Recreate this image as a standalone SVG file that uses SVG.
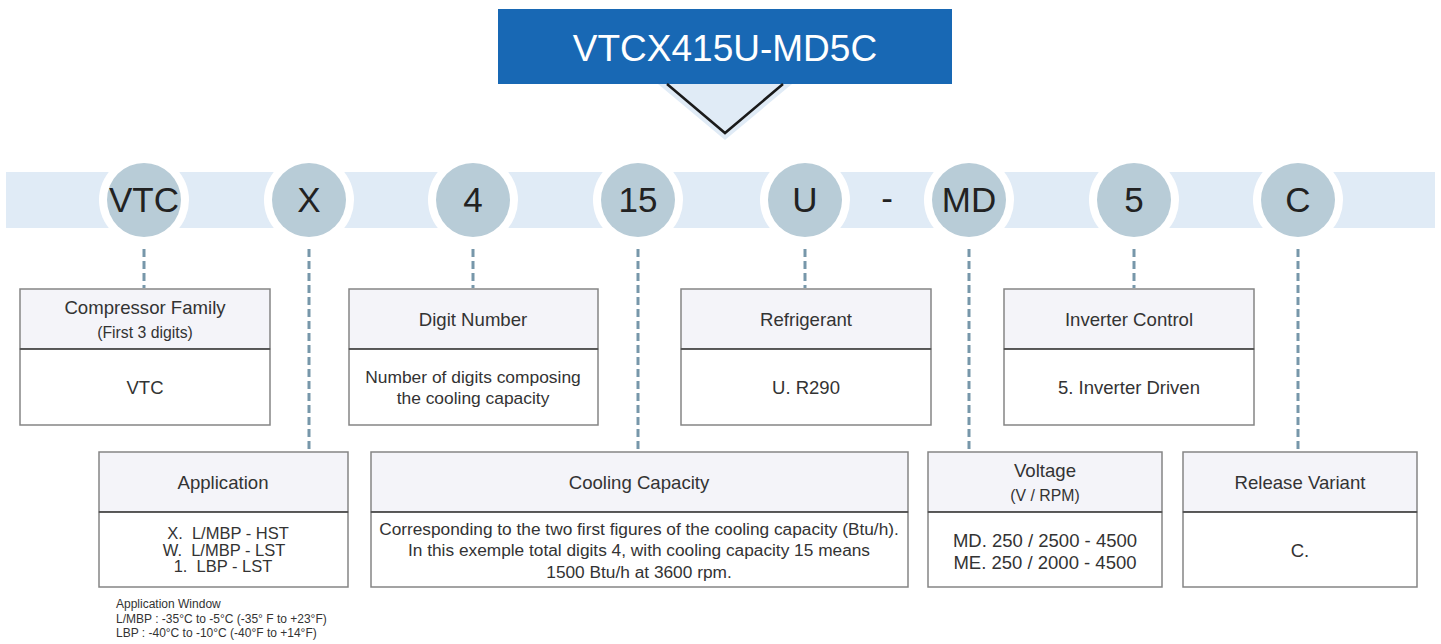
<svg xmlns="http://www.w3.org/2000/svg" width="1441" height="644" viewBox="0 0 1441 644">
<style>
  text { font-family: "Liberation Sans", Arial, sans-serif; fill: #333; }
  .title { fill: #ffffff; font-size: 37px; text-anchor: middle; }
  .code { font-size: 35px; fill: #222; text-anchor: middle; }
  .ring { fill: #ffffff; }
  .dot { fill: #b8ccd7; }
  .hdr { fill: #f4f4f9; stroke: #858585; stroke-width: 1.5; }
  .body { fill: #ffffff; stroke: #858585; stroke-width: 1.5; }
  .div { stroke: #444; stroke-width: 1.5; }
  .h { font-size: 18.6px; text-anchor: middle; }
  .s { font-size: 15.8px; text-anchor: middle; }
  .b { font-size: 18.5px; text-anchor: middle; }
  .b3 { font-size: 17.4px; text-anchor: middle; }
  .b2 { font-size: 17.3px; text-anchor: middle; }
  .ap { font-size: 16.5px; text-anchor: middle; white-space: pre; }
  .note { font-size: 12px; }
  .conn line { stroke: #7797aa; stroke-width: 3; stroke-dasharray: 8 4; }
</style>

<g id="title">
  <polygon points="658,84 792,84 725,140" fill="#e0ebf6"/>
  <rect x="498" y="9" width="454" height="75" fill="#1868b4"/>
  <polyline points="667,84 725,133 783,84" fill="none" stroke="#1a1a1a" stroke-width="2.5"/>
  <text class="title" x="725" y="61">VTCX415U-MD5C</text>
</g>

<g id="band">
  <rect x="6" y="172" width="1429" height="56" fill="#e0ebf6"/>
</g>

<g id="code-VTC"><circle class="ring" cx="144" cy="200" r="45"/><circle class="dot" cx="144" cy="200" r="37"/><text class="code" x="144" y="212">VTC</text></g>
<g id="code-X"><circle class="ring" cx="309" cy="200" r="45"/><circle class="dot" cx="309" cy="200" r="37"/><text class="code" x="309" y="212">X</text></g>
<g id="code-4"><circle class="ring" cx="473" cy="200" r="45"/><circle class="dot" cx="473" cy="200" r="37"/><text class="code" x="473" y="212">4</text></g>
<g id="code-15"><circle class="ring" cx="638" cy="200" r="45"/><circle class="dot" cx="638" cy="200" r="37"/><text class="code" x="638" y="212">15</text></g>
<g id="code-U"><circle class="ring" cx="805" cy="200" r="45"/><circle class="dot" cx="805" cy="200" r="37"/><text class="code" x="805" y="212">U</text></g>
<g id="code-dash"><text class="code" x="887" y="210">-</text></g>
<g id="code-MD"><circle class="ring" cx="969" cy="200" r="45"/><circle class="dot" cx="969" cy="200" r="37"/><text class="code" x="969" y="212">MD</text></g>
<g id="code-5"><circle class="ring" cx="1134" cy="200" r="45"/><circle class="dot" cx="1134" cy="200" r="37"/><text class="code" x="1134" y="212">5</text></g>
<g id="code-C"><circle class="ring" cx="1298" cy="200" r="45"/><circle class="dot" cx="1298" cy="200" r="37"/><text class="code" x="1298" y="212">C</text></g>

<g id="connectors" class="conn">
  <line x1="144" y1="249" x2="144" y2="288"/>
  <line x1="309" y1="249" x2="309" y2="450"/>
  <line x1="473" y1="249" x2="473" y2="288"/>
  <line x1="638" y1="249" x2="638" y2="450"/>
  <line x1="805" y1="249" x2="805" y2="288"/>
  <line x1="969" y1="249" x2="969" y2="450"/>
  <line x1="1134" y1="249" x2="1134" y2="288"/>
  <line x1="1298" y1="249" x2="1298" y2="450"/>
</g>

<g id="box-compressor">
  <rect class="hdr" x="20" y="289" width="250" height="60"/>
  <rect class="body" x="20" y="349" width="250" height="76"/>
  <line class="div" x1="20" y1="349" x2="270" y2="349"/>
  <text class="h" x="145" y="314">Compressor Family</text>
  <text class="s" x="145" y="338">(First 3 digits)</text>
  <text class="b" x="145" y="394">VTC</text>
</g>

<g id="box-digit">
  <rect class="hdr" x="349" y="289" width="249" height="60"/>
  <rect class="body" x="349" y="349" width="249" height="76"/>
  <line class="div" x1="349" y1="349" x2="598" y2="349"/>
  <text class="h" x="473" y="326">Digit Number</text>
  <text class="b3" x="473" y="383">Number of digits composing</text>
  <text class="b3" x="473" y="404">the cooling capacity</text>
</g>

<g id="box-refrigerant">
  <rect class="hdr" x="681" y="289" width="250" height="60"/>
  <rect class="body" x="681" y="349" width="250" height="76"/>
  <line class="div" x1="681" y1="349" x2="931" y2="349"/>
  <text class="h" x="806" y="326">Refrigerant</text>
  <text class="b" x="806" y="394">U. R290</text>
</g>

<g id="box-inverter">
  <rect class="hdr" x="1004" y="289" width="250" height="60"/>
  <rect class="body" x="1004" y="349" width="250" height="76"/>
  <line class="div" x1="1004" y1="349" x2="1254" y2="349"/>
  <text class="h" x="1129" y="326">Inverter Control</text>
  <text class="b" x="1129" y="394">5. Inverter Driven</text>
</g>

<g id="box-application">
  <rect class="hdr" x="99" y="452" width="249" height="60"/>
  <rect class="body" x="99" y="512" width="249" height="75"/>
  <line class="div" x1="99" y1="512" x2="348" y2="512"/>
  <text class="h" x="223" y="489">Application</text>
  <text class="ap" x="228" y="539" xml:space="preserve">X.  L/MBP - HST</text>
  <text class="ap" x="224" y="555.5" xml:space="preserve">W.  L/MBP - LST</text>
  <text class="ap" x="223" y="572" xml:space="preserve">1.  LBP - LST</text>
</g>

<g id="note-application">
  <text class="note" x="116" y="608">Application Window</text>
  <text class="note" x="116" y="623">L/MBP : -35°C to -5°C (-35° F to +23°F)</text>
  <text class="note" x="116" y="637">LBP : -40°C to -10°C (-40°F to +14°F)</text>
</g>

<g id="box-cooling">
  <rect class="hdr" x="371" y="452" width="537" height="60"/>
  <rect class="body" x="371" y="512" width="537" height="75"/>
  <line class="div" x1="371" y1="512" x2="908" y2="512"/>
  <text class="h" x="639" y="489">Cooling Capacity</text>
  <text class="b2" x="639" y="535">Corresponding to the two first figures of the cooling capacity (Btu/h).</text>
  <text class="b2" x="639" y="556">In this exemple total digits 4, with cooling capacity 15 means</text>
  <text class="b2" x="639" y="578">1500 Btu/h at 3600 rpm.</text>
</g>

<g id="box-voltage">
  <rect class="hdr" x="928" y="452" width="234" height="60"/>
  <rect class="body" x="928" y="512" width="234" height="75"/>
  <line class="div" x1="928" y1="512" x2="1162" y2="512"/>
  <text class="h" x="1045" y="477">Voltage</text>
  <text class="s" x="1045" y="501">(V / RPM)</text>
  <text class="b" x="1045" y="547">MD. 250 / 2500 - 4500</text>
  <text class="b" x="1045" y="569">ME. 250 / 2000 - 4500</text>
</g>

<g id="box-release">
  <rect class="hdr" x="1183" y="452" width="234" height="60"/>
  <rect class="body" x="1183" y="512" width="234" height="75"/>
  <line class="div" x1="1183" y1="512" x2="1417" y2="512"/>
  <text class="h" x="1300" y="489">Release Variant</text>
  <text class="b" x="1300" y="557">C.</text>
</g>
</svg>
